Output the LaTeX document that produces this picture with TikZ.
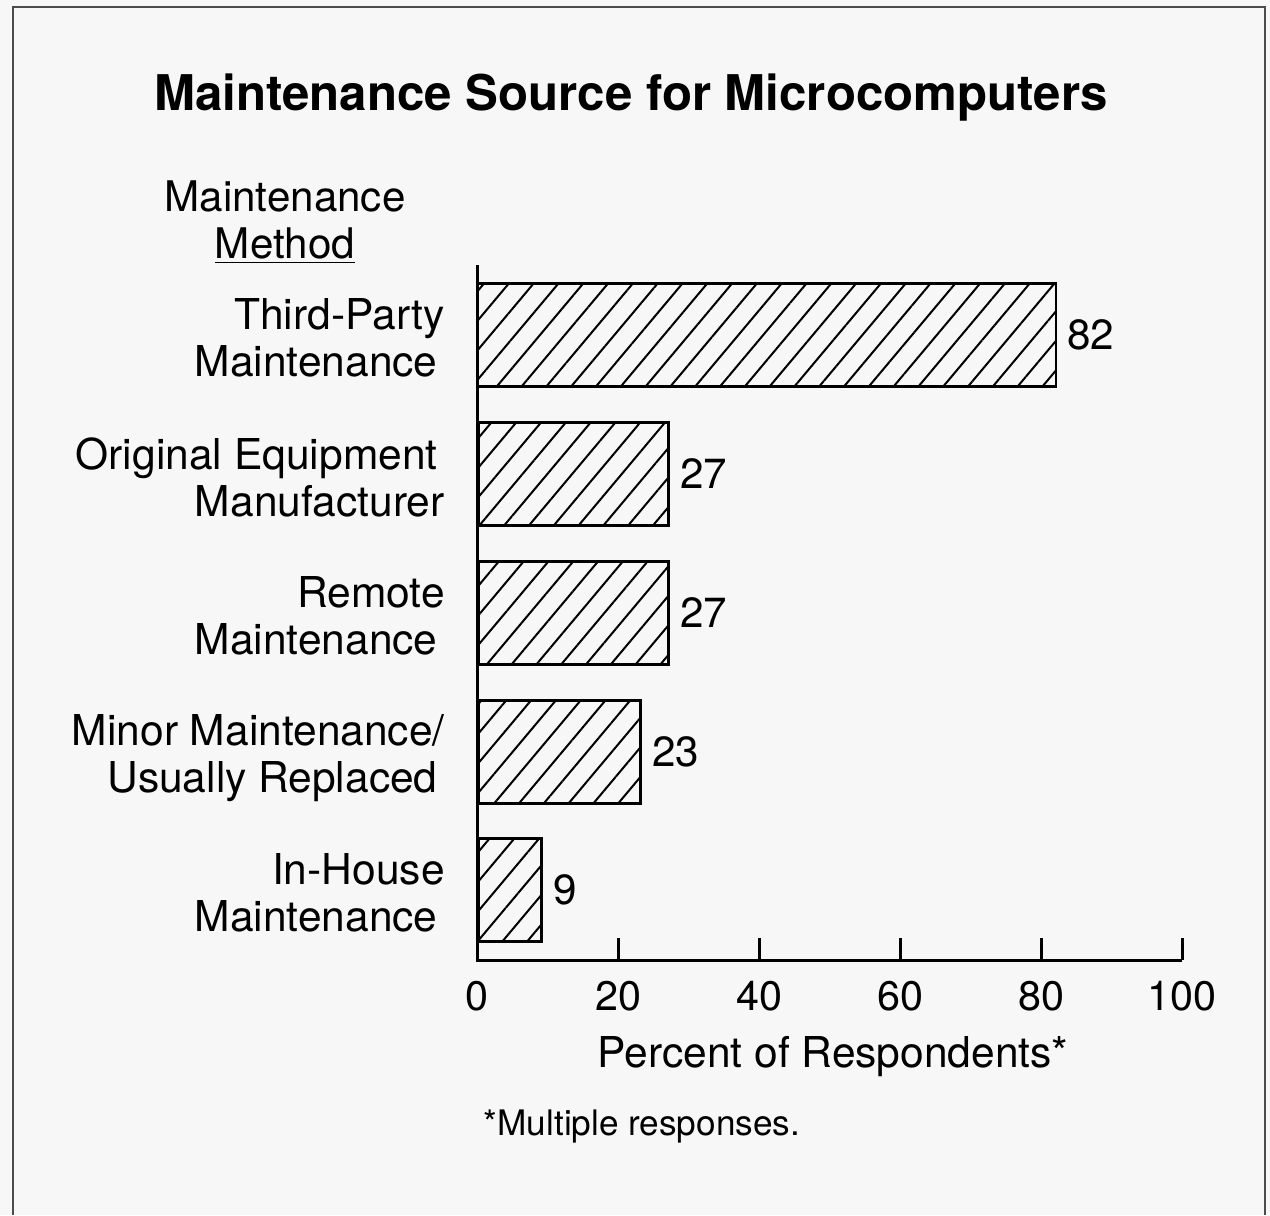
\documentclass[tikz,border=0pt]{standalone}
\usepackage{fontspec}
\setmainfont{TeX Gyre Heros}
\usetikzlibrary{positioning, patterns.meta}

\begin{document}
\begin{tikzpicture}[
        x=0.2mm, y=-0.2mm,
        node distance=2mm,
        bar/.style={
          draw, line width=0.55mm, anchor=west, minimum height=20.6mm, inner sep=0pt,
          pattern={Lines[angle=50, distance=3.8mm, line width=0.4mm]}
        },
        category/.style={
          align=right, anchor=east, inner sep=0pt, font=\fontsize{24.2}{26.8}\selectfont
        },
        value/.style={
          inner sep=0pt, font=\fontsize{24}{26.5}\selectfont
        },
        ticklabel/.style={
          inner sep=0pt, font=\fontsize{23.5}{26}\selectfont
        },
        axis/.style={line width=0.6mm},
        frame/.style={line width=0.4mm, black!70},
      ]
        % page and frame
        \useasboundingbox [fill=black!3] (0,0) rectangle (1270,1215);
        \draw [frame] (13,1215) -- (13,7) -- (1265,7) -- (1265,1215);

        % title
        \node [inner sep=0pt, font=\fontsize{28}{32}\selectfont\bfseries] (title) at (631,98) {Maintenance Source for Microcomputers};
        \node [align=center, inner sep=0pt, font=\fontsize{24}{26.8}\selectfont] (method_head) at (285,222) {Maintenance\\\underline{Method}};

        % axes
        \coordinate (origin) at (477,960);
        \coordinate (axis_top) at (477,265);
        \coordinate (axis_end) at (1182,960);
        \draw [axis] (axis_top) -- (origin) -- (axis_end);

        % Bars
        \node [bar, minimum width=82*1.41mm] (bar_third) at (477,335) {};
        \node [bar, minimum width=27*1.41mm] (bar_oem) at (477,474) {};
        \node [bar, minimum width=27*1.41mm] (bar_remote) at (477,613) {};
        \node [bar, minimum width=23*1.41mm] (bar_minor) at (477,752) {};
        \node [bar, minimum width=9*1.41mm] (bar_inhouse) at (477,890) {};

        % values
        \node [value, right=of bar_third] (val_third) {82};
        \node [value, right=of bar_oem] (val_oem) {27};
        \node [value, right=of bar_remote] (val_remote) {27};
        \node [value, right=of bar_minor] (val_minor) {23};
        \node [value, right=of bar_inhouse] (val_inhouse) {9};

        % Labels
        \node [category] (lab_third) at (445,338) {Third-Party\\Maintenance\,};
        \node [category] (lab_oem) at (445,477) {Original Equipment\,\\Manufacturer};
        \node [category] (lab_remote) at (445,616) {Remote\\Maintenance\,};
        \node [category] (lab_minor) at (445,758) {Minor Maintenance/\\Usually Replaced\,};
        \node [category] (lab_inhouse) at (445,893) {In-House\\Maintenance\,};

        % ticks
        \foreach \p in {0,20,40,60,80,100} {
          \ifnum\p>0
            \draw [axis] (477+7.05*\p,938) -- (477+7.05*\p,960);
          \fi
          \node [ticklabel] (tick_\p) at (477+7.05*\p,996) {\p};
        }

        % axis title and note
        \node [inner sep=0pt, font=\fontsize{24.2}{26}\selectfont] (x_title) at (833,1057) {Percent of Respondents*};
        \node [inner sep=0pt, font=\fontsize{20}{22}\selectfont] (note) at (642,1127) {*Multiple responses.};

      \end{tikzpicture}
\end{document}
